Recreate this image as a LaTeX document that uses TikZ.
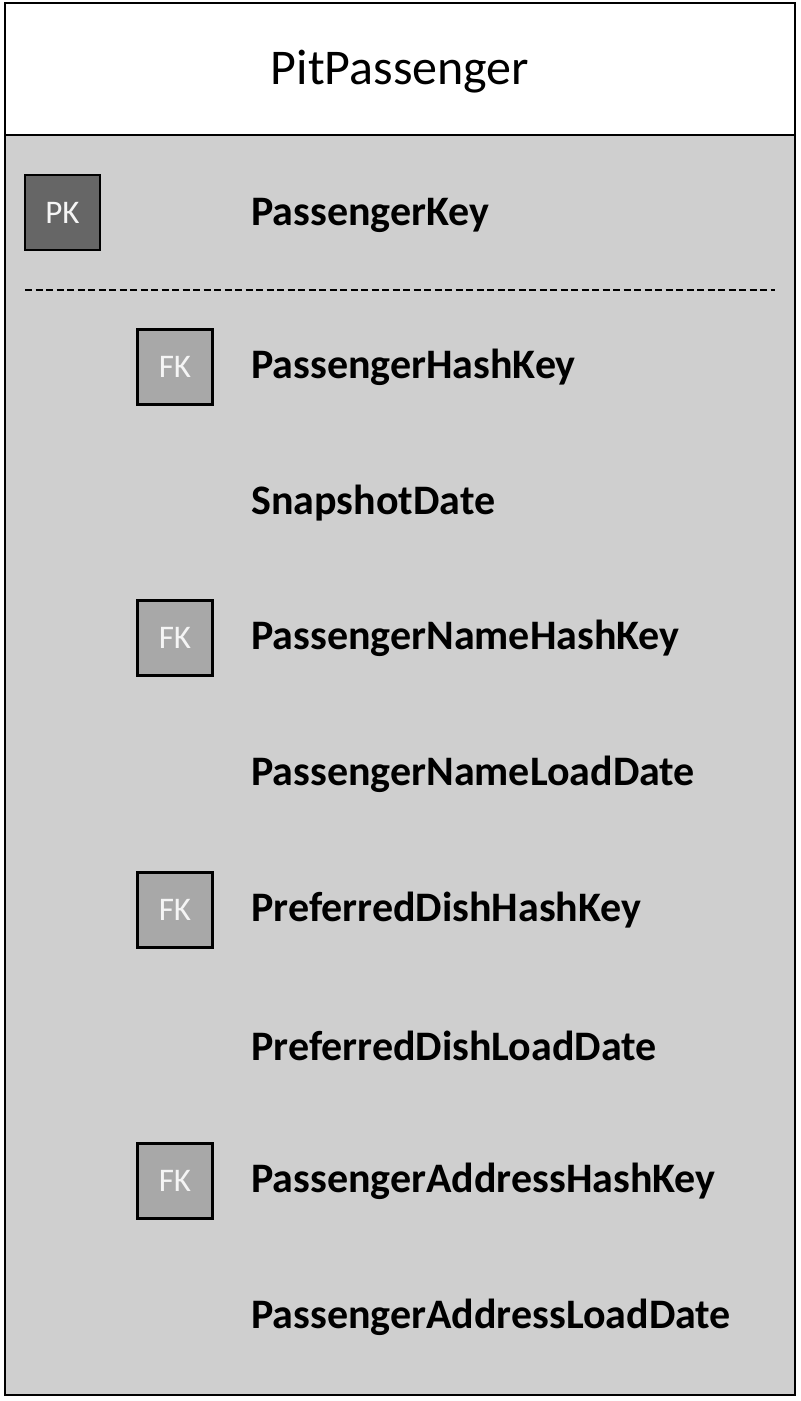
\documentclass[tikz,border=0pt]{standalone}
\usepackage{fontspec}
\setmainfont{Carlito}
\definecolor{panel}{RGB}{207,207,207}
\definecolor{pkfill}{RGB}{102,102,102}
\definecolor{fkfill}{RGB}{168,168,168}
\definecolor{keytext}{RGB}{245,245,245}
\begin{document}
\begin{tikzpicture}[x=0.5pt,y=-0.5pt,
  keybox/.style={draw=black,line width=1.3pt,minimum size=37.5pt,inner sep=0pt,font=\fontsize{16.5}{18}\selectfont,text=keytext},
  pkbox/.style={keybox,fill=pkfill},
  fkbox/.style={keybox,fill=fkfill},
  field/.style={anchor=west,inner sep=0pt,font=\fontsize{21}{24}\selectfont\bfseries}]
\useasboundingbox (0,0) rectangle (800,1401);
\fill[white] (0,0) rectangle (800,1401);
\fill[panel] (5,135) rectangle (795,1395);
\draw[line width=1.4pt] (5,3) rectangle (795,1395);
\draw[line width=1.4pt] (5,135) -- (795,135);
\node[inner sep=0pt,font=\fontsize{25}{30}\selectfont] (title) at (400,72) {PitPassenger};
\node[pkbox] (pk) at (62.5,212.5) {PK};
\node[field] (f0) at (251,215) {PassengerKey};
\coordinate (dl) at (25,290);
\coordinate (dr) at (775,290);
\draw[line width=1.2pt,dash pattern=on 3.5pt off 1.75pt] (dl) -- (dr);
\node[fkbox] (fk1) at (175,367) {FK};
\node[field] (f1) at (251,367) {PassengerHashKey};
\node[field] (f2) at (251,503) {SnapshotDate};
\node[fkbox] (fk2) at (175,638) {FK};
\node[field] (f3) at (251,638) {PassengerNameHashKey};
\node[field] (f4) at (251,774) {PassengerNameLoadDate};
\node[fkbox] (fk3) at (175,910) {FK};
\node[field] (f5) at (251,910) {PreferredDishHashKey};
\node[field] (f6) at (251,1046) {PreferredDishLoadDate};
\node[fkbox] (fk4) at (175,1181) {FK};
\node[field] (f7) at (251,1181) {PassengerAddressHashKey};
\node[field] (f8) at (251,1317) {PassengerAddressLoadDate};
\end{tikzpicture}
\end{document}
